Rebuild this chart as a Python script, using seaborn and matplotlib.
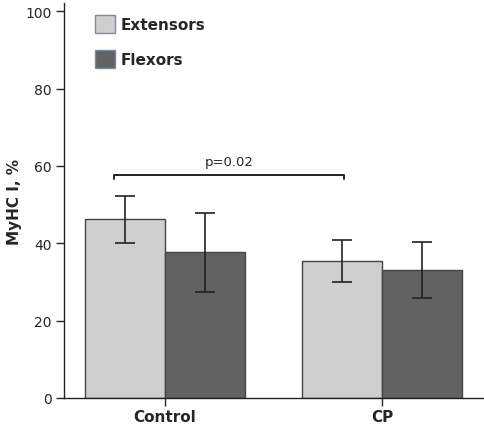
import matplotlib
matplotlib.use("Agg")
import matplotlib.pyplot as plt
import seaborn as sns
import pandas as pd

groups = ["Control", "CP"]
muscles = ["Extensors", "Flexors"]
means = {"Extensors": [46.2, 35.4], "Flexors": [37.7, 33.0]}
errs = {"Extensors": [6.1, 5.5], "Flexors": [10.2, 7.2]}
colors = {"Extensors": "#cfcfcf", "Flexors": "#626262"}
p_text = "p=0.02"
p_level = 57.7

rows = []
for m in muscles:
    for g, v, e in zip(groups, means[m], errs[m]):
        rows.append({"group": g, "muscle": m, "value": v, "err": e})
df = pd.DataFrame(rows)

sns.set_style("white")
plt.rcParams["font.family"] = ["DejaVu Sans"]

fig = plt.figure(figsize=(4.84, 4.27), dpi=100)
ax = fig.add_axes([0.132, 0.0656, 0.868, 0.924])

sns.barplot(data=df, x="group", y="value", hue="muscle", hue_order=muscles,
            palette=colors, errorbar=None, width=0.74, gap=0,
            edgecolor="#444444", linewidth=1.0, saturation=1, ax=ax)

for cont, m in zip(ax.containers, muscles):
    xs = [b.get_x() + b.get_width() / 2 for b in cont]
    ax.errorbar(xs, means[m], yerr=errs[m], fmt="none", ecolor="#222222",
                elinewidth=1.2, capsize=7, capthick=1.2, zorder=5)

# significance bracket between the two extensor bars
ext = ax.containers[0]
x1 = ext[0].get_x() + ext[0].get_width() / 2 - 0.05
x2 = ext[1].get_x() + ext[1].get_width() / 2 + 0.01
ax.plot([x1, x1, x2, x2], [p_level - 1.0, p_level, p_level, p_level - 1.0],
        color="#222222", lw=1.4, zorder=5)
ax.text((x1 + x2) / 2, p_level + 1.8, p_text, ha="center", va="bottom", fontsize=9.5)

ax.set_xlim(-0.465, 1.47)
ax.set_ylim(0, 102)
ax.set_yticks([0, 20, 40, 60, 80, 100])
ax.tick_params(axis="y", direction="out", length=6, width=1, labelsize=10, pad=3, left=True)
ax.tick_params(axis="x", direction="out", length=6, width=1, pad=2, bottom=True)
for lab in ax.get_xticklabels():
    lab.set_fontweight("bold")
    lab.set_fontsize(11)
ax.set_xlabel("")
ax.set_ylabel("MyHC I, %", fontsize=11, fontweight="bold")
ax.yaxis.set_label_coords(-0.1, 0.5)

for side in ["top", "right"]:
    ax.spines[side].set_visible(False)
for side in ["left", "bottom"]:
    ax.spines[side].set_color("#222222")
    ax.spines[side].set_linewidth(1.0)

handles = [plt.Rectangle((0, 0), 1, 1, facecolor=colors[m], edgecolor="#7a8ba0", lw=1.0)
           for m in muscles]
leg = ax.legend(handles, muscles, loc="upper left", bbox_to_anchor=(0.073, 0.97),
                frameon=False, borderpad=0, borderaxespad=0,
                handlelength=1.35, handleheight=1.45, handletextpad=0.35,
                labelspacing=1.1, prop={"weight": "bold", "size": 11})

fig.savefig("out.png", dpi=100)
